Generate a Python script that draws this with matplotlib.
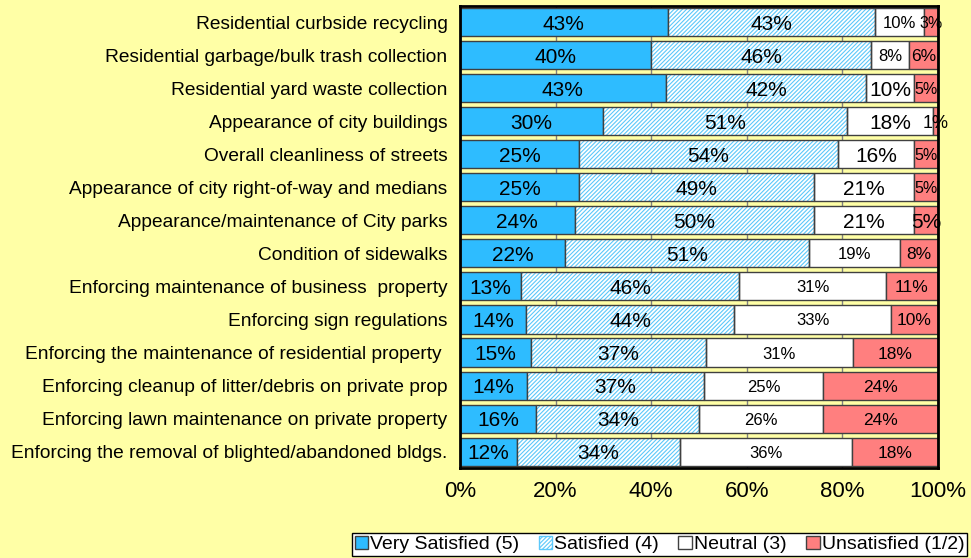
import numpy as np
import matplotlib.pyplot as plt
from matplotlib.patches import Patch

plt.rcParams['font.family'] = ['Liberation Sans', 'DejaVu Sans']
plt.rcParams['hatch.linewidth'] = 0.8

# Categories, top to bottom
categories = [
    "Residential curbside recycling",
    "Residential garbage/bulk trash collection",
    "Residential yard waste collection",
    "Appearance of city buildings",
    "Overall cleanliness of streets",
    "Appearance of city right-of-way and medians",
    "Appearance/maintenance of City parks",
    "Condition of sidewalks",
    "Enforcing maintenance of business  property",
    "Enforcing sign regulations",
    "Enforcing the maintenance of residential property ",
    "Enforcing cleanup of litter/debris on private prop",
    "Enforcing lawn maintenance on private property",
    "Enforcing the removal of blighted/abandoned bldgs.",
]

very_satisfied = [43, 40, 43, 30, 25, 25, 24, 22, 13, 14, 15, 14, 16, 12]
satisfied = [43, 46, 42, 51, 54, 49, 50, 51, 46, 44, 37, 37, 34, 34]
neutral = [10, 8, 10, 18, 16, 21, 21, 19, 31, 33, 31, 25, 26, 36]
unsatisfied = [3, 6, 5, 1, 5, 5, 5, 8, 11, 10, 18, 24, 24, 18]

series_names = ["Very Satisfied (5)", "Satisfied (4)", "Neutral (3)", "Unsatisfied (1/2)"]

BG = '#FFFFA6'
BLUE = '#2EBCFF'
RED = '#FF7F7F'
EDGE = '#404040'

data = np.array([very_satisfied, satisfied, neutral, unsatisfied], dtype=float)
shares = data / data.sum(axis=0) * 100

# Excel used smaller fonts on some labels: (row, series) -> size
label_size = {}
for i in range(len(categories)):
    label_size[(i, 0)] = 15
    label_size[(i, 1)] = 15
    label_size[(i, 2)] = 15 if 2 <= i <= 6 else 12
    label_size[(i, 3)] = 12.5
label_size[(6, 3)] = 15
label_size[(0, 3)] = 11.5
label_size[(2, 3)] = 11.5
label_size[(4, 3)] = 11.5
label_size[(5, 3)] = 11.5
label_size[(3, 3)] = 13

fig = plt.figure(figsize=(9.71, 5.58), dpi=100, facecolor=BG)
ax = fig.add_axes([0.4737, 0.161, 0.4923, 0.829])
ax.set_facecolor(BG)

y = np.arange(len(categories))
left = np.zeros(len(categories))
h = 0.85
for k in range(4):
    w = shares[k]
    if k == 0:
        ax.barh(y, w, left=left, height=h, color=BLUE, edgecolor=EDGE, linewidth=1, zorder=3)
    elif k == 1:
        ax.barh(y, w, left=left, height=h, color='white', edgecolor='#5CC8FA', hatch='////////',
                linewidth=0, zorder=3)
        ax.barh(y, w, left=left, height=h, color='none', edgecolor=EDGE, linewidth=1, zorder=4)
    elif k == 2:
        ax.barh(y, w, left=left, height=h, color='white', edgecolor=EDGE, linewidth=1, zorder=3)
    else:
        ax.barh(y, w, left=left, height=h, color=RED, edgecolor=EDGE, linewidth=1, zorder=3)
    for i in range(len(categories)):
        ax.text(left[i] + w[i] / 2, y[i], f"{int(data[k, i])}%", ha='center',
                va='center_baseline', fontsize=label_size[(i, k)], color='black', zorder=5)
    left += w

ax.set_xlim(0, 100)
ax.set_ylim(len(categories) - 0.5, -0.5)
ax.set_yticks(y)
ax.set_yticklabels(categories, fontsize=13.8)
ax.set_xticks(np.arange(0, 101, 20))
ax.set_xticklabels([f"{v}%" for v in range(0, 101, 20)], fontsize=16)
ax.tick_params(axis='both', length=0)
ax.tick_params(axis='x', pad=9)
ax.tick_params(axis='y', pad=9)
ax.grid(axis='x', color='#808080', linewidth=1, zorder=0)
for s in ax.spines.values():
    s.set_color('black')
    s.set_linewidth(2)
    s.set_zorder(6)

handles = [
    Patch(facecolor=BLUE, edgecolor=EDGE),
    Patch(facecolor='white', edgecolor='#5CC8FA', hatch='////////'),
    Patch(facecolor='white', edgecolor=EDGE),
    Patch(facecolor=RED, edgecolor=EDGE),
]
leg = fig.legend(handles, series_names, loc='lower right', bbox_to_anchor=(0.998, 0.0),
                 ncol=4, fontsize=14, frameon=True, fancybox=False, framealpha=1,
                 edgecolor='black', facecolor='white', handlelength=0.7, handleheight=0.7,
                 handletextpad=0.1, columnspacing=1.0, borderpad=0.15, borderaxespad=0.1)
leg.get_frame().set_linewidth(1)

fig.savefig('out.png', dpi=100, facecolor=BG)
